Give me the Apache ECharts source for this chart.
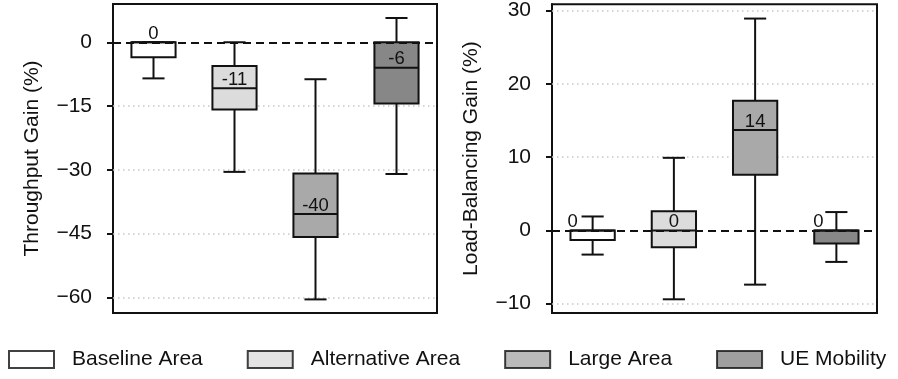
<!DOCTYPE html>
<html lang="en">
<head>
<meta charset="UTF-8">
<title>Gain boxplots</title>
<script src="https://cdn.jsdelivr.net/npm/echarts@6/dist/echarts.min.js"></script>
<style>html,body{margin:0;padding:0;background:#fff;}</style>
</head>
<body>
<div id="main" style="width:898px;height:379px;"></div>
<script type="text/javascript">
var categories = ['Baseline Area', 'Alternative Area', 'Large Area', 'UE Mobility'];
var colors = ['#ffffff', '#dcdcdc', '#a9a9a9', '#878787'];

// each box: [min, Q1, median, Q3, max]
var throughputBoxes = [
    [-8.5, -3.5, 0, 0, 0],
    [-30.5, -15.8, -10.8, -5.6, 0],
    [-60.5, -45.8, -40.4, -30.9, -8.7],
    [-31.0, -14.4, -6.0, 0, 5.7]
];
var loadBalancingBoxes = [
    [-3.3, -1.3, 0, 0, 1.9],
    [-9.4, -2.3, 0, 2.6, 9.9],
    [-7.4, 7.6, 13.7, 17.7, 28.9],
    [-4.3, -1.8, 0, 0, 2.5]
];
var throughputTicks = [0, -15, -30, -45, -60];
var loadBalancingTicks = [30, 20, 10, 0, -10];

var FONT = '"Liberation Sans", Arial, sans-serif';
var INK = '#111';

function rows(boxes) {
    return boxes.map(function (b, i) { return [i].concat(b); });
}

function renderBox(shift) {
    return function (params, api) {
        var i = api.value(0);
        var band = api.size([1, 0])[0];
        var w = band * 0.545;
        var cap = w / 2;
        var x = api.coord([i, 0])[0];
        var y = function (k) { return api.coord([i, api.value(k)])[1]; };
        var yMin = y(1), yQ1 = y(2), yMed = y(3), yQ3 = y(4), yMax = y(5);
        var ln = { stroke: INK, lineWidth: 2 };
        var med = Math.round(api.value(3));
        return {
            type: 'group',
            children: [
                { type: 'line', shape: { x1: x, y1: yQ3, x2: x, y2: yMax }, style: ln },
                { type: 'line', shape: { x1: x, y1: yQ1, x2: x, y2: yMin }, style: ln },
                { type: 'line', shape: { x1: x - cap / 2, y1: yMax, x2: x + cap / 2, y2: yMax }, style: ln },
                { type: 'line', shape: { x1: x - cap / 2, y1: yMin, x2: x + cap / 2, y2: yMin }, style: ln },
                { type: 'rect', shape: { x: x - w / 2, y: yQ3, width: w, height: yQ1 - yQ3 },
                  style: { fill: colors[i], stroke: INK, lineWidth: 2 } },
                { type: 'line', shape: { x1: x - w / 2, y1: yMed, x2: x + w / 2, y2: yMed }, style: ln },
                { type: 'text', x: x + shift[i], y: yMed + 1,
                  style: { text: String(med === 0 ? 0 : med), fill: INK, fontSize: 18.5, fontFamily: FONT,
                           align: 'center', verticalAlign: 'bottom' } }
            ]
        };
    };
}

function gridLines(ticks) {
    return ticks.filter(function (t) { return t !== 0; }).map(function (t) { return { yAxis: t }; });
}

function yAxisFor(idx, name, min, max, ticks, gap) {
    return {
        type: 'value', gridIndex: idx, min: min, max: max,
        name: name, nameLocation: 'middle', nameGap: gap,
        nameTextStyle: { fontSize: 21, fontFamily: FONT, color: INK },
        axisLine: { show: true, lineStyle: { color: INK, width: 2 } },
        axisTick: { show: true, length: 6, customValues: ticks, lineStyle: { color: INK, width: 2 } },
        axisLabel: { customValues: ticks, margin: 21, fontSize: 21, fontFamily: FONT, color: INK,
                     formatter: function (v) { return String(v).replace('-', '\u2212'); } },
        splitLine: { show: false }
    };
}

function xAxisFor(idx) {
    return {
        type: 'category', gridIndex: idx, data: categories, boundaryGap: true,
        axisLine: { show: false }, axisTick: { show: false }, axisLabel: { show: false },
        splitLine: { show: false }
    };
}

function panelSeries(idx, boxes, ticks, shift) {
    return [
        {
            type: 'line', xAxisIndex: idx, yAxisIndex: idx, data: [], silent: true,
            markLine: {
                z: 1, silent: true, symbol: 'none', label: { show: false },
                lineStyle: { color: '#c8c8c8', width: 1.5, type: [1.5, 3.5] },
                data: gridLines(ticks)
            }
        },
        {
            type: 'custom', xAxisIndex: idx, yAxisIndex: idx,
            data: rows(boxes), renderItem: renderBox(shift),
            encode: { x: 0, y: [1, 2, 3, 4, 5] },
            markLine: {
                silent: true, symbol: 'none', label: { show: false },
                lineStyle: { color: INK, width: 2, type: [8, 5] },
                data: [{ yAxis: 0 }]
            }
        }
    ];
}

var legendSeries = categories.map(function (n, i) {
    return { name: n, type: 'scatter', data: [], itemStyle: { color: colors[i], borderColor: INK, borderWidth: 2 } };
});

var myChart = echarts.init(document.getElementById('main'));
var option = {
    animation: false,
    backgroundColor: '#fff',
    grid: [
        { left: 113, top: 4, width: 324, height: 309, show: true, borderColor: INK, borderWidth: 2, backgroundColor: 'transparent' },
        { left: 552, top: 4, width: 325, height: 309, show: true, borderColor: INK, borderWidth: 2, backgroundColor: 'transparent' }
    ],
    xAxis: [xAxisFor(0), xAxisFor(1)],
    yAxis: [
        yAxisFor(0, 'Throughput Gain (%)', -63.7, 9.0, throughputTicks, 70),
        yAxisFor(1, 'Load-Balancing Gain (%)', -11.27, 30.86, loadBalancingTicks, 70)
    ],
    legend: {
        left: 8, top: 349, padding: 0,
        itemWidth: 45, itemHeight: 17, itemGap: 44,
        selectedMode: false,
        textStyle: { fontSize: 21, fontFamily: FONT, color: INK, padding: [0, 0, 0, 13] },
        data: categories.map(function (n, i) {
            return { name: n, icon: 'rect', itemStyle: { color: colors[i], borderColor: INK, borderWidth: 2 } };
        })
    },
    series: panelSeries(0, throughputBoxes, throughputTicks, [0, 0, 0, 0])
        .concat(panelSeries(1, loadBalancingBoxes, loadBalancingTicks, [-20, 0, 0, -18]))
        .concat(legendSeries)
};
myChart.setOption(option);
</script>
</body>
</html>
